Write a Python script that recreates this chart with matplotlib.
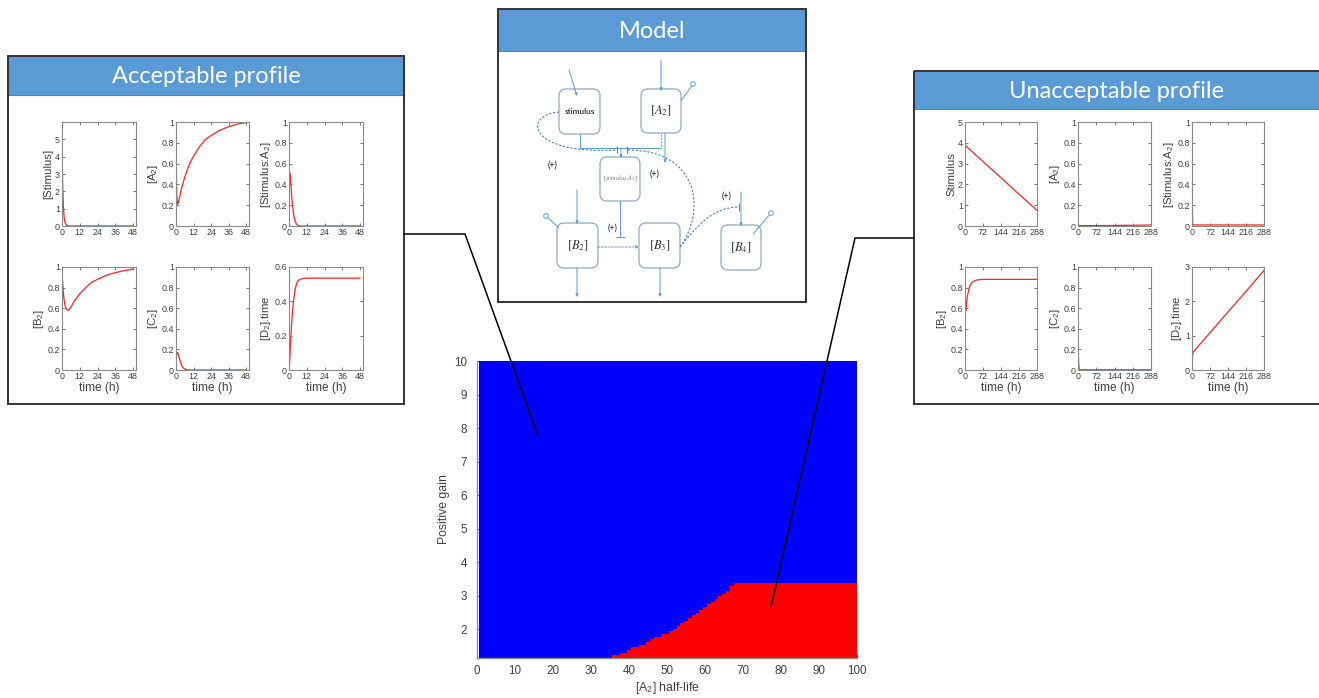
import numpy as np
import matplotlib
matplotlib.use('Agg')
import matplotlib.pyplot as plt
from matplotlib.patches import Rectangle, FancyBboxPatch, Circle, PathPatch
from matplotlib.path import Path
from matplotlib.colors import ListedColormap

W, H = 1319, 698

# ---------------- main map data ----------------
half_life = np.arange(1, 101)                       # [A2] half-life columns
gain_range = (1.15, 10.0)
bnd_half_life = list(range(36, 69))                 # boundary columns
bnd_gain = [1.20, 1.25, 1.30, 1.33, 1.38, 1.43, 1.48, 1.53, 1.58, 1.64,
            1.70, 1.75, 1.80, 1.84, 1.89, 1.94, 2.00, 2.08, 2.16, 2.24,
            2.32, 2.40, 2.48, 2.56, 2.64, 2.72, 2.80, 2.88, 2.96, 3.06,
            3.16, 3.27, 3.36]
plateau_gain = 3.40
x_ticks = [0, 10, 20, 30, 40, 50, 60, 70, 80, 90, 100]
y_ticks = [2, 3, 4, 5, 6, 7, 8, 9, 10]

# ---------------- acceptable profile data ----------------
t_acc = [0, 0.25, 0.5, 1, 1.5, 2, 3, 4, 5, 6, 8, 10, 12, 16, 20, 24, 30, 36, 42, 48]
acc_stim = [5.0, 3.3, 2.2, 1.0, 0.45, 0.2, 0.05, 0.01, 0, 0, 0, 0, 0, 0, 0, 0, 0, 0, 0, 0]
acc_a2 = [1.0, 0.55, 0.3, 0.21, 0.22, 0.25, 0.31, 0.37, 0.42, 0.47, 0.55, 0.62, 0.67,
          0.76, 0.83, 0.87, 0.92, 0.955, 0.98, 0.995]
acc_sa2 = [0, 0.38, 0.51, 0.45, 0.35, 0.25, 0.12, 0.05, 0.02, 0.005, 0, 0, 0, 0, 0, 0, 0, 0, 0, 0]
acc_b2 = [1.0, 0.9, 0.84, 0.74, 0.67, 0.63, 0.59, 0.58, 0.59, 0.61, 0.66, 0.70, 0.74,
          0.80, 0.85, 0.88, 0.92, 0.945, 0.965, 0.98]
acc_c2 = [0, 0.1, 0.15, 0.17, 0.16, 0.13, 0.08, 0.04, 0.02, 0.01, 0, 0, 0, 0, 0, 0, 0, 0, 0, 0]
acc_d2 = [0, 0.02, 0.06, 0.15, 0.23, 0.3, 0.4, 0.46, 0.5, 0.52, 0.53, 0.533, 0.535,
          0.535, 0.535, 0.535, 0.535, 0.535, 0.535, 0.535]

# ---------------- unacceptable profile data ----------------
t_un = [0, 0.5, 1, 2, 3, 5, 8, 10, 15, 20, 30, 45, 60, 72, 144, 216, 288]
un_stim = [5.0, 4.4, 4.0, 3.87, 3.85, 3.83, 3.80, 3.77, 3.72, 3.67, 3.56, 3.39,
           3.23, 3.10, 2.32, 1.53, 0.75]
un_a2 = [1.0, 0.3, 0.05, 0.01, 0.005, 0.004, 0.004, 0.004, 0.004, 0.004, 0.004,
         0.004, 0.004, 0.004, 0.005, 0.007, 0.01]
un_sa2 = [0, 0.62, 0.4, 0.1, 0.02, 0.01, 0.01, 0.01, 0.01, 0.01, 0.01, 0.01, 0.01,
          0.01, 0.01, 0.01, 0.01]
un_b2 = [1.0, 0.8, 0.68, 0.6, 0.574, 0.62, 0.69, 0.72, 0.78, 0.82, 0.855, 0.872,
         0.878, 0.88, 0.88, 0.88, 0.88]
un_c2 = [0, 0.12, 0.18, 0.12, 0.05, 0.01, 0.003, 0.002, 0.002, 0.002, 0.002, 0.002,
         0.002, 0.002, 0.002, 0.002, 0.002]
un_d2 = [0, 0.1, 0.2, 0.35, 0.45, 0.52, 0.55, 0.567, 0.61, 0.65, 0.735, 0.86, 0.986,
         1.087, 1.69, 2.29, 2.9]

FONT = ['Liberation Sans', 'DejaVu Sans']
plt.rcParams['font.family'] = FONT
plt.rcParams['mathtext.fontset'] = 'stix'
GRAY = '#404040'
SPINE = '#8a8a8a'
HDR = '#5B9BD5'
DIAG = '#5B9BD5'

fig = plt.figure(figsize=(W / 100, H / 100), dpi=100)
fig.patch.set_facecolor('white')


def ax_px(x0, y0, x1, y1, **kw):
    return fig.add_axes([x0 / W, 1 - y1 / H, (x1 - x0) / W, (y1 - y0) / H], **kw)


# background overlay for panels and diagram
bg = ax_px(0, 0, W, H)
bg.set_xlim(0, W)
bg.set_ylim(H, 0)
bg.axis('off')
bg.set_zorder(0)


def panel(x0, y0, x1, y1, hh, title):
    bg.add_patch(Rectangle((x0, y0), x1 - x0, y1 - y0, facecolor='white',
                           edgecolor='none', zorder=1))
    bg.add_patch(Rectangle((x0, y0), x1 - x0, hh, facecolor=HDR,
                           edgecolor='#4a86c0', lw=0.8, zorder=2))
    bg.add_patch(Rectangle((x0, y0), x1 - x0, y1 - y0, facecolor='none',
                           edgecolor='#333333', lw=1.4, zorder=3))
    bg.text((x0 + min(x1, W)) / 2, y0 + hh / 2 + 1, title, color='white',
            fontsize=17, ha='center', va='center', family=['Lato', 'DejaVu Sans'],
            zorder=4)


panel(8, 56, 404, 404, 39, 'Acceptable profile')
panel(914, 71, 1325, 404, 38, 'Unacceptable profile')
panel(498, 9, 806, 302, 42, 'Model')

# ---------------- model diagram ----------------
BOXC = '#8fa9c6'


def node(x0, y0, x1, y1, label, **kw):
    bg.add_patch(FancyBboxPatch((x0, y0), x1 - x0, y1 - y0,
                                boxstyle='round,pad=0,rounding_size=7',
                                facecolor='white', edgecolor=BOXC, lw=0.9, zorder=5))
    bg.text((x0 + x1) / 2, (y0 + y1) / 2, label, ha='center', va='center',
            zorder=6, **kw)


node(559, 89, 600, 134, 'stimulus', fontsize=6, family=['Lato', 'DejaVu Sans'])
node(641, 89, 681, 133, r'$[A_2]$', fontsize=9, color='#333333')
node(600, 157, 640, 201, r'$[stimulus\!:\!A_2]$', fontsize=4.5, color='#777777')
node(557, 223, 598, 268, r'$[B_2]$', fontsize=9, color='#333333')
node(639, 223, 680, 268, r'$[B_3]$', fontsize=9, color='#333333')
node(721, 225, 761, 270, r'$[B_4]$', fontsize=9, color='#333333')


def arrow(p0, p1, ls='-'):
    bg.annotate('', xy=p1, xytext=p0,
                arrowprops=dict(arrowstyle='-|>', color=DIAG, lw=0.7, ls=ls,
                                mutation_scale=4, shrinkA=0, shrinkB=0),
                zorder=7)


def seg(pts, ls='-', c=DIAG, lw=0.7):
    xs, ys = zip(*pts)
    bg.plot(xs, ys, color=c, lw=lw, ls=ls, zorder=7, solid_capstyle='butt')


def deg(p0, p1):
    seg([p0, p1])
    bg.add_patch(Circle(p1, 2.3, facecolor='white', edgecolor=DIAG, lw=0.7, zorder=8))


def curve(pts, ls=(0, (2, 1.5)), c='#4a7fb5'):
    codes = [Path.MOVETO, Path.CURVE4, Path.CURVE4, Path.CURVE4]
    bg.add_patch(PathPatch(Path(pts, codes), facecolor='none', edgecolor=c,
                           lw=0.8, ls=ls, zorder=7))


arrow((569, 70), (577, 96))
arrow((661, 60), (661, 91))
deg((681, 101), (693, 84))
seg([(580, 134), (580, 148), (661, 148)])
seg([(661, 134), (661, 148)], ls=(0, (2, 1.5)))
arrow((621, 148), (621, 158))
arrow((665, 133), (665, 163))
seg([(617, 146), (617, 153)], c='#4a7fb5')
seg([(627, 146), (627, 153)], c='#4a7fb5')
curve([(559, 112), (522, 115), (528, 155), (616, 150)])
curve([(680, 247), (706, 212), (700, 150), (628, 150)])
curve([(680, 247), (700, 222), (715, 207), (739, 207)])
seg([(739, 203), (739, 211)], c='#4a7fb5')
arrow((741, 192), (741, 226))
seg([(620, 201), (620, 237)])
seg([(616, 237), (625, 237)])
arrow((598, 247), (639, 247), ls=(0, (2, 1.5)))
arrow((577, 190), (577, 224))
deg((559, 228), (546, 216))
deg((753, 234), (771, 213))
arrow((577, 268), (577, 297))
arrow((660, 268), (660, 297))
for (px, py) in [(553, 165), (655, 174), (727, 196), (613, 228)]:
    bg.text(px, py, '(+)', fontsize=6.5, ha='center', va='center', zorder=8,
            family=['Lato', 'DejaVu Sans'], color='#222222')

# ---------------- small profile axes ----------------


def small(x0, y0, x1, y1, t, v, xlim, xt, ylim, yt, ylab, xlab=None):
    a = ax_px(x0, y0, x1, y1)
    a.set_zorder(2)
    a.plot(t, v, color='#ff2020', lw=0.9)
    a.set_xlim(*xlim)
    a.set_ylim(*ylim)
    a.set_xticks(xt)
    a.set_yticks(yt)
    a.set_yticklabels([('%g' % y) for y in yt])
    a.tick_params(direction='in', length=2, width=0.5, labelsize=6.4,
                  colors=GRAY, pad=1.5, top=True, right=True)
    for s in a.spines.values():
        s.set_color(SPINE)
        s.set_linewidth(0.8)
    a.set_ylabel(ylab, fontsize=8.2, color=GRAY, labelpad=1)
    if xlab:
        a.set_xlabel(xlab, fontsize=8.6, color=GRAY, labelpad=1)
    return a


cols_l = [(62, 136), (176, 249), (289, 363)]
cols_r = [(965, 1037), (1078, 1151), (1192, 1264)]
row_t = (122, 226)
row_b = (267, 370)
xt_l = [0, 12, 24, 36, 48]
xt_r = [0, 72, 144, 216, 288]
yt01 = [0, 0.2, 0.4, 0.6, 0.8, 1]
S2 = r'$_\mathregular{2}$'

small(cols_l[0][0], row_t[0], cols_l[0][1], row_t[1], t_acc, acc_stim, (0, 50), xt_l,
      (0, 6), [0, 1, 2, 3, 4, 5], '[Stimulus]')
small(cols_l[1][0], row_t[0], cols_l[1][1], row_t[1], t_acc, acc_a2, (0, 50), xt_l,
      (0, 1), yt01, '[A' + S2 + ']')
small(cols_l[2][0], row_t[0], cols_l[2][1], row_t[1], t_acc, acc_sa2, (0, 50), xt_l,
      (0, 1), yt01, '[Stimulus:A' + S2 + ']')
small(cols_l[0][0], row_b[0], cols_l[0][1], row_b[1], t_acc, acc_b2, (0, 50), xt_l,
      (0, 1), yt01, '[B' + S2 + ']', 'time (h)')
small(cols_l[1][0], row_b[0], cols_l[1][1], row_b[1], t_acc, acc_c2, (0, 50), xt_l,
      (0, 1), yt01, '[C' + S2 + ']', 'time (h)')
small(cols_l[2][0], row_b[0], cols_l[2][1], row_b[1], t_acc, acc_d2, (0, 50), xt_l,
      (0, 0.6), [0, 0.2, 0.4, 0.6], '[D' + S2 + '].time', 'time (h)')

small(cols_r[0][0], row_t[0], cols_r[0][1], row_t[1], t_un, un_stim, (0, 288), xt_r,
      (0, 5), [0, 1, 2, 3, 4, 5], 'Stimulus')
small(cols_r[1][0], row_t[0], cols_r[1][1], row_t[1], t_un, un_a2, (0, 288), xt_r,
      (0, 1), yt01, '[A' + S2 + ']')
small(cols_r[2][0], row_t[0], cols_r[2][1], row_t[1], t_un, un_sa2, (0, 288), xt_r,
      (0, 1), yt01, '[Stimulus:A' + S2 + ']')
small(cols_r[0][0], row_b[0], cols_r[0][1], row_b[1], t_un, un_b2, (0, 288), xt_r,
      (0, 1), yt01, '[B' + S2 + ']', 'time (h)')
small(cols_r[1][0], row_b[0], cols_r[1][1], row_b[1], t_un, un_c2, (0, 288), xt_r,
      (0, 1), yt01, '[C' + S2 + ']', 'time (h)')
small(cols_r[2][0], row_b[0], cols_r[2][1], row_b[1], t_un, un_d2, (0, 288), xt_r,
      (0, 3), [0, 1, 2, 3], '[D' + S2 + '].time', 'time (h)')

# ---------------- main map ----------------
thr = np.zeros(len(half_life))
for hx, g in zip(bnd_half_life, bnd_gain):
    thr[hx - 1] = g
thr[bnd_half_life[-1]:] = plateau_gain
x_edges = np.append(half_life - 0.5, half_life[-1] + 0.5)
y_edges = np.linspace(gain_range[0], gain_range[1], 112)
y_cent = 0.5 * (y_edges[:-1] + y_edges[1:])
Z = (y_cent[:, None] < thr[None, :]).astype(int)

m = ax_px(477, 361, 857, 658)
m.set_zorder(1)
m.pcolormesh(x_edges, y_edges, Z, cmap=ListedColormap(['#0000ff', '#ff0000']),
             vmin=0, vmax=1, shading='flat')
m.set_xlim(0, 100)
m.set_ylim(*gain_range)
m.set_xticks(x_ticks)
m.set_yticks(y_ticks)
m.set_axisbelow(True)
m.tick_params(direction='in', length=3, width=0.6, labelsize=8.4, colors=GRAY)
m.tick_params(axis='y', pad=7)
m.tick_params(axis='x', pad=5)
for s in ['top', 'right']:
    m.spines[s].set_visible(False)
for s in ['left', 'bottom']:
    m.spines[s].set_color(SPINE)
    m.spines[s].set_linewidth(1.0)
m.set_xlabel('[A' + S2 + '] half-life', fontsize=8.8, color=GRAY, labelpad=2)
m.set_ylabel('Positive gain', fontsize=8.8, color=GRAY, labelpad=3)

# ---------------- connector lines ----------------
top = ax_px(0, 0, W, H)
top.set_xlim(0, W)
top.set_ylim(H, 0)
top.axis('off')
top.patch.set_alpha(0)
top.set_zorder(5)
top.plot([404, 465, 537], [234, 234, 433], color='black', lw=1.1)
top.plot([914, 855, 771], [238, 238, 607], color='black', lw=1.1)

fig.savefig('out.png', dpi=100, facecolor='white')
